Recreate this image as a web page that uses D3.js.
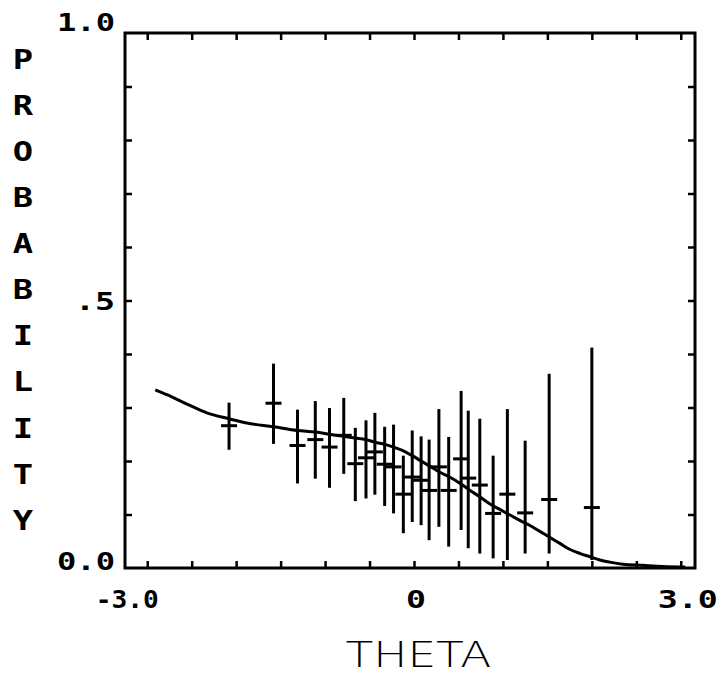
<!DOCTYPE html>
<html>
<head>
<meta charset="utf-8">
<script src="https://cdn.jsdelivr.net/npm/d3@7"></script>
<style>
  body { margin: 0; background: #fff; }
  svg { display: block; }
</style>
</head>
<body>
<div id="chart"></div>
<script>
// observed proportions with error bars
const theta = [-2.08, -1.58, -1.31, -1.11, -0.95, -0.79, -0.66, -0.54, -0.44, -0.33, -0.23, -0.12, -0.02,
               0.08, 0.17, 0.28, 0.39, 0.53, 0.61, 0.74, 0.89, 1.05, 1.25, 1.52, 2.00];
const prob  = [0.266, 0.308, 0.229, 0.240, 0.226, 0.248, 0.195, 0.206, 0.217, 0.194, 0.189, 0.138, 0.170,
               0.164, 0.145, 0.189, 0.145, 0.204, 0.168, 0.155, 0.102, 0.138, 0.103, 0.128, 0.113];
const lo    = [0.221, 0.232, 0.158, 0.167, 0.150, 0.176, 0.125, 0.130, 0.137, 0.116, 0.102, 0.065, 0.086,
               0.080, 0.052, 0.077, 0.040, 0.071, 0.037, 0.027, 0.018, 0.015, 0.027, 0.027, 0.015];
const hi    = [0.309, 0.382, 0.296, 0.312, 0.299, 0.318, 0.262, 0.276, 0.290, 0.264, 0.268, 0.210, 0.257,
               0.246, 0.240, 0.297, 0.245, 0.331, 0.294, 0.279, 0.210, 0.297, 0.238, 0.363, 0.412];

// fitted curve
const curveTheta = [-2.91, -2.78, -2.52, -2.33, -2.08, -1.88, -1.58, -1.31, -1.11, -0.95, -0.79, -0.66, -0.54,
                    -0.44, -0.33, -0.23, -0.12, -0.02, 0.07, 0.18, 0.29, 0.40, 0.52, 0.63, 0.74, 0.85, 0.97,
                    1.08, 1.19, 1.30, 1.42, 1.53, 1.64, 1.75, 1.87, 1.98, 2.09, 2.20, 2.35, 2.57, 2.80, 3.05];
const curveProb  = [0.333, 0.324, 0.304, 0.290, 0.279, 0.271, 0.264, 0.257, 0.254, 0.250, 0.246, 0.243, 0.240,
                    0.235, 0.231, 0.226, 0.219, 0.210, 0.201, 0.190, 0.179, 0.170, 0.158, 0.145, 0.133, 0.120, 0.109,
                    0.099, 0.089, 0.080, 0.068, 0.057, 0.046, 0.035, 0.027, 0.021, 0.015, 0.011, 0.007, 0.005, 0.003, 0.002];

const xTicks = d3.range(-3, 3.01, 0.5);
const yTicks = d3.range(0.1, 0.95, 0.1);
const xLabels = [-3, 0, 3];
const xLabelText = ["-3.0", "0", "3.0"];
const yLabels = [1, 0.5, 0];
const yLabelText = ["1.0", ".5", "0.0"];
const yTitle = "PROBABILITY".split("");

const W = 718, H = 675;
const margin = {left: 125, top: 33, right: 23, bottom: 107};
const width = W - margin.left - margin.right;
const height = H - margin.top - margin.bottom;

const svg = d3.select("#chart").append("svg")
    .attr("width", W)
    .attr("height", H);

const g = svg.append("g")
    .attr("transform", `translate(${margin.left},${margin.top})`);

// frame runs a little past -3 / 3 in the original plot
const x = d3.scaleLinear().domain([-3.25, 3.16]).range([0, width]);
const y = d3.scaleLinear().domain([0, 1]).range([height, 0]);

// inward ticks on all four sides
const tickLen = 7;
const axes = [
    [d3.axisBottom(x).tickValues(xTicks), `translate(0,${height})`],
    [d3.axisTop(x).tickValues(xTicks), "translate(0,0)"],
    [d3.axisLeft(y).tickValues(yTicks), "translate(0,0)"],
    [d3.axisRight(y).tickValues(yTicks), `translate(${width},0)`]
];
for(let [ax, tr] of axes){
    const a = g.append("g")
        .attr("transform", tr)
        .call(ax.tickSizeInner(-tickLen).tickSizeOuter(0).tickFormat(""));
    a.select(".domain").remove();
    a.selectAll(".tick line").attr("stroke", "#000").attr("stroke-width", 2.5);
}

g.append("rect")
    .attr("width", width)
    .attr("height", height)
    .attr("fill", "none")
    .attr("stroke", "#000")
    .attr("stroke-width", 3);

// curve
const line = d3.line()
    .x((d, i) => x(curveTheta[i]))
    .y(d => y(d))
    .curve(d3.curveMonotoneX);

g.append("path")
    .datum(curveProb)
    .attr("d", line)
    .attr("fill", "none")
    .attr("stroke", "#000")
    .attr("stroke-width", 3);

// error bars
const bars = g.append("g").attr("class", "bars");
theta.forEach((t, i) => {
    bars.append("line")
        .attr("x1", x(t)).attr("x2", x(t))
        .attr("y1", y(lo[i])).attr("y2", y(hi[i]))
        .attr("stroke", "#000")
        .attr("stroke-width", 3);
    bars.append("line")
        .attr("x1", x(t) - 8).attr("x2", x(t) + 8)
        .attr("y1", y(prob[i])).attr("y2", y(prob[i]))
        .attr("stroke", "#000")
        .attr("stroke-width", 3);
});

const font = "'DejaVu Sans Mono', monospace";

// y tick labels
const yOffsets = [-11, 0, -7];
const yLens = [58, 40, 58];
yLabels.forEach((v, i) => {
    g.append("text")
        .attr("x", -10)
        .attr("y", y(v) + yOffsets[i])
        .attr("dy", "0.36em")
        .attr("text-anchor", "end")
        .attr("font-family", font)
        .attr("font-weight", "bold")
        .attr("font-size", 25)
        .attr("textLength", yLens[i])
        .attr("lengthAdjust", "spacingAndGlyphs")
        .text(yLabelText[i]);
});

// x tick labels
const xOffsets = [-20, 2, 7];
const xLens = [63, 20, 60];
xLabels.forEach((v, i) => {
    g.append("text")
        .attr("x", x(v) + xOffsets[i])
        .attr("y", height + 31)
        .attr("dy", "0.36em")
        .attr("text-anchor", "middle")
        .attr("font-family", font)
        .attr("font-weight", "bold")
        .attr("font-size", 25)
        .attr("textLength", xLens[i])
        .attr("lengthAdjust", "spacingAndGlyphs")
        .text(xLabelText[i]);
});

// axis titles
svg.append("text")
    .attr("x", margin.left + x(0.05))
    .attr("y", 667)
    .attr("text-anchor", "middle")
    .attr("font-family", "'DejaVu Sans', sans-serif")
    .attr("font-weight", 200)
    .attr("font-size", 36)
    .attr("textLength", 146)
    .attr("lengthAdjust", "spacingAndGlyphs")
    .text("THETA");

// stacked letters, stretched a bit wider like the plotter font
svg.append("g")
    .selectAll("text")
    .data(yTitle)
    .join("text")
    .attr("transform", (d, i) => `translate(23,${59 + i * 46.1}) scale(1.25,1)`)
    .attr("dy", "0.36em")
    .attr("text-anchor", "middle")
    .attr("font-family", font)
    .attr("font-weight", "bold")
    .attr("font-size", 27)
    .text(d => d);
</script>
</body>
</html>
